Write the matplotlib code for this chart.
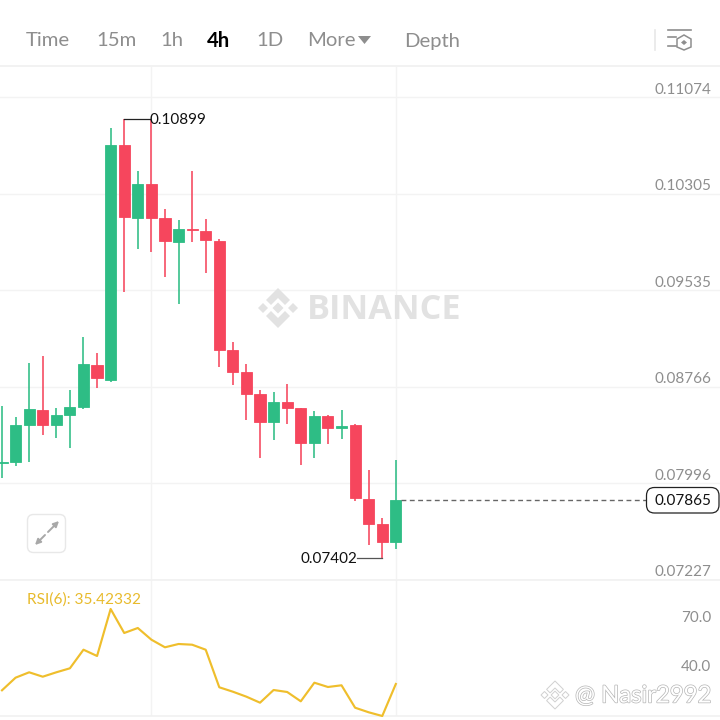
import matplotlib
matplotlib.use("Agg")
import matplotlib.pyplot as plt
import matplotlib.patheffects as pe
from matplotlib.patches import FancyBboxPatch, Polygon

plt.rcParams["font.family"] = ["Lato", "DejaVu Sans"]

# Candles
opens = [0.08155, 0.08164, 0.08459, 0.08583, 0.08459, 0.08541, 0.08602, 0.08942, 0.08820, 0.10692,
         0.10110, 0.10381, 0.10110, 0.09921, 0.10020, 0.10009, 0.09925, 0.09059, 0.08881, 0.08706,
         0.08483, 0.08645, 0.08595, 0.08321, 0.08536, 0.08440, 0.08459, 0.07875, 0.07671, 0.07532]
highs = [0.08613, 0.08523, 0.08955, 0.09009, 0.08597, 0.08740, 0.09165, 0.09033, 0.10829, 0.10899,
         0.10482, 0.10891, 0.10184, 0.10094, 0.10485, 0.10105, 0.09941, 0.09125, 0.08945, 0.08738,
         0.08724, 0.08786, 0.08597, 0.08573, 0.08541, 0.08581, 0.08467, 0.08105, 0.07718, 0.08180]
lows = [0.08039, 0.08135, 0.08169, 0.08379, 0.08360, 0.08276, 0.08589, 0.08759, 0.08802, 0.09518,
        0.09863, 0.09837, 0.09638, 0.09428, 0.09921, 0.09675, 0.08926, 0.08780, 0.08501, 0.08196,
        0.08342, 0.08467, 0.08143, 0.08201, 0.08313, 0.08352, 0.07859, 0.07503, 0.07402, 0.07476]
closes = [0.08167, 0.08462, 0.08587, 0.08459, 0.08541, 0.08602, 0.08945, 0.08833, 0.10692, 0.10116,
          0.10379, 0.10113, 0.09925, 0.10020, 0.10012, 0.09933, 0.09056, 0.08886, 0.08711, 0.08485,
          0.08645, 0.08597, 0.08321, 0.08536, 0.08440, 0.08450, 0.07878, 0.07673, 0.07532, 0.07865]
rsi = [31.55, 39.27, 42.57, 39.88, 42.57, 45.02, 56.41, 52.55, 81.33, 66.64,
       69.70, 62.54, 57.88, 59.90, 59.47, 56.41, 33.39, 30.69, 27.63, 23.96,
       31.73, 30.51, 24.81, 36.20, 33.57, 34.61, 20.89, 18.08, 15.81, 35.42]

price_ticks = [0.11074, 0.10305, 0.09535, 0.08766, 0.07996, 0.07227]
rsi_ticks = [70.0, 40.0]
time_grid = [11, 29]
last_price = 0.07865
high_idx = 9
low_idx = 28

menu_labels = ["Time", "15m", "1h", "1D", "More", "Depth"]
menu_x = [26, 96, 160, 256, 307, 404]

GREEN = "#2ebd85"
RED = "#f6465d"
GRID = "#f3f3f3"
GREY = "#8e8e8e"
XLIM = (-0.147, 52.87)

fig = plt.figure(figsize=(7.2, 7.2), dpi=100, facecolor="white")
ax = fig.add_axes([0, 140 / 720, 1, 513 / 720])
ax_rsi = fig.add_axes([0, 4 / 720, 1, 136 / 720])
over = fig.add_axes([0, 0, 1, 1], zorder=5)
over.set_xlim(0, 720)
over.set_ylim(720, 0)
over.axis("off")
over.patch.set_alpha(0)

# Candlesticks
x = list(range(len(opens)))
colors = [GREEN if c >= o else RED for o, c in zip(opens, closes)]
ax.vlines(x, lows, highs, colors=colors, linewidth=1.35, alpha=0.85, zorder=3)
ax.bar(x, [abs(c - o) for o, c in zip(opens, closes)], bottom=[min(o, c) for o, c in zip(opens, closes)],
       width=0.82, color=colors, edgecolor=colors, linewidth=0.6, zorder=4)

ax.set_xlim(XLIM)
ax.set_ylim(0.07227, 0.11313)
ax.set_yticks(price_ticks)
ax.set_xticks(time_grid)
ax.grid(True, color=GRID, linewidth=1, zorder=0)
ax.tick_params(length=0, labelleft=False, labelbottom=False)
for s in ax.spines.values():
    s.set_visible(False)

for p in price_ticks:
    ax.annotate(f"{p:.5f}", xy=(1, p), xycoords=ax.get_yaxis_transform(), xytext=(-9, 7.5),
                textcoords="offset pixels", ha="right", va="center", fontsize=11, color=GREY)

# High / low labels and last price
ax.plot([high_idx, high_idx + 1.87], [highs[high_idx], highs[high_idx]], color="#222222", linewidth=0.9, zorder=5)
ax.annotate(f"{highs[high_idx]:.5f}", xy=(high_idx + 1.87, highs[high_idx]), xytext=(0, -1.5),
            textcoords="offset pixels", ha="left", va="center", fontsize=11, color="#111111", zorder=6)
ax.plot([low_idx - 1.85, low_idx], [lows[low_idx], lows[low_idx]], color="#555555", linewidth=0.9, zorder=5)
ax.annotate(f"{lows[low_idx]:.5f}", xy=(low_idx - 1.85, lows[low_idx]), xytext=(0, -0.5),
            textcoords="offset pixels", ha="right", va="center", fontsize=11, color="#111111", zorder=6)
ax.plot([29.4, 47.4], [last_price, last_price], color="#666666", linewidth=1, dashes=(3.5, 2.5), zorder=5)
over.add_patch(FancyBboxPatch((646.5, 487.5), 72.5, 25.5, boxstyle="round,pad=0,rounding_size=8",
                              facecolor="white", edgecolor="#222222", linewidth=0.9))
over.text(682.5, 501, f"{last_price:.5f}", ha="center", va="center", fontsize=11, color="#111111")

# RSI panel
ax_rsi.plot(x, rsi, color="#efbe2c", linewidth=1.55, clip_on=False, zorder=3)
ax_rsi.set_xlim(XLIM)
ax_rsi.set_ylim(15.81, 99.09)
ax_rsi.set_xticks(time_grid)
ax_rsi.set_yticks([])
ax_rsi.grid(True, axis="x", color=GRID, linewidth=1, zorder=0)
ax_rsi.tick_params(length=0, labelbottom=False)
for s in ax_rsi.spines.values():
    s.set_visible(False)
for side in ["top", "bottom"]:
    ax_rsi.spines[side].set_visible(True)
    ax_rsi.spines[side].set_color("#f1f1f1")
    ax_rsi.spines[side].set_linewidth(1.2)
for v in rsi_ticks:
    ax_rsi.annotate(f"{v:.1f}", xy=(1, v), xycoords=ax_rsi.get_yaxis_transform(), xytext=(-9, 9.5),
                    textcoords="offset pixels", ha="right", va="center", fontsize=11, color=GREY)
over.text(27, 599.5, f"RSI(6): {rsi[-1]:.2f}332", ha="left", va="center", fontsize=11.1, color="#e8bb2d")

# Header menu
over.plot([0, 720], [66, 66], color="#f2f2f2", linewidth=1.4)
for label, lx in zip(menu_labels, menu_x):
    over.text(lx, 41, label, ha="left", va="center", fontsize=14.6, color=GREY)
over.text(207, 41, "4h", ha="left", va="center", fontsize=14.6, color="black", fontweight="bold")
over.add_patch(Polygon([(358, 36), (371, 36), (364.5, 44)], closed=True, facecolor=GREY, edgecolor="none"))

# Indicator icon, top right
over.plot([654.5, 654.5], [30, 50], color="#e8e8e8", linewidth=1.2)
over.plot([668, 691], [30, 30], color=GREY, linewidth=1.2)
over.plot([668, 676], [37, 37], color=GREY, linewidth=1.2)
over.plot([668, 676], [46, 46], color=GREY, linewidth=1.2)
over.add_patch(Polygon([(684, 35), (691, 39), (691, 47), (684, 50), (677, 47), (677, 39)], closed=True,
                       facecolor="white", edgecolor=GREY, linewidth=1.1))
over.add_patch(Polygon([(684, 40), (687, 42.5), (684, 45), (681, 42.5)], closed=True, facecolor=GREY, edgecolor="none"))


# Binance logo, used twice
def logo(cx, cy, r, **kw):
    k = r / 20.0
    shapes = [
        [(-20, 0), (-15, -5), (-10, 0), (-15, 5)],
        [(20, 0), (15, -5), (10, 0), (15, 5)],
        [(0, -5.5), (5.5, 0), (0, 5.5), (-5.5, 0)],
        [(0, -20), (12, -8), (7, -3), (0, -10), (-7, -3), (-12, -8)],
        [(0, 20), (12, 8), (7, 3), (0, 10), (-7, 3), (-12, 8)],
    ]
    for pts in shapes:
        over.add_patch(Polygon([(cx + a * k, cy + b * k) for a, b in pts], closed=True, **kw))


# Watermarks
logo(278, 308, 20, facecolor="#e2e2e2", edgecolor="none")
over.text(307, 310, "BINANCE", ha="left", va="center", fontsize=24.6, fontweight="bold", color="#e2e2e2",
          family=["Open Sans", "DejaVu Sans"])
logo(555, 695, 14, facecolor="white", edgecolor="#d0d0d0", linewidth=0.7)
over.text(575, 696, "@ Nasir2992", ha="left", va="center", fontsize=17.2, color="white",
          path_effects=[pe.withStroke(linewidth=1.0, foreground="#b5b5b5")])

# Expand button
over.add_patch(FancyBboxPatch((27.5, 514.5), 38, 38, boxstyle="round,pad=0,rounding_size=6",
                              facecolor="white", edgecolor="#e8e8e8", linewidth=1))
arrow = dict(arrowstyle="-|>", color="#a8a8a8", lw=1.4, mutation_scale=8)
over.annotate("", xy=(35, 545), xytext=(45, 535), arrowprops=dict(arrow, shrinkA=0, shrinkB=0))
over.annotate("", xy=(59, 521), xytext=(48, 532), arrowprops=dict(arrow, shrinkA=0, shrinkB=0))

fig.savefig("out.png", dpi=100)
